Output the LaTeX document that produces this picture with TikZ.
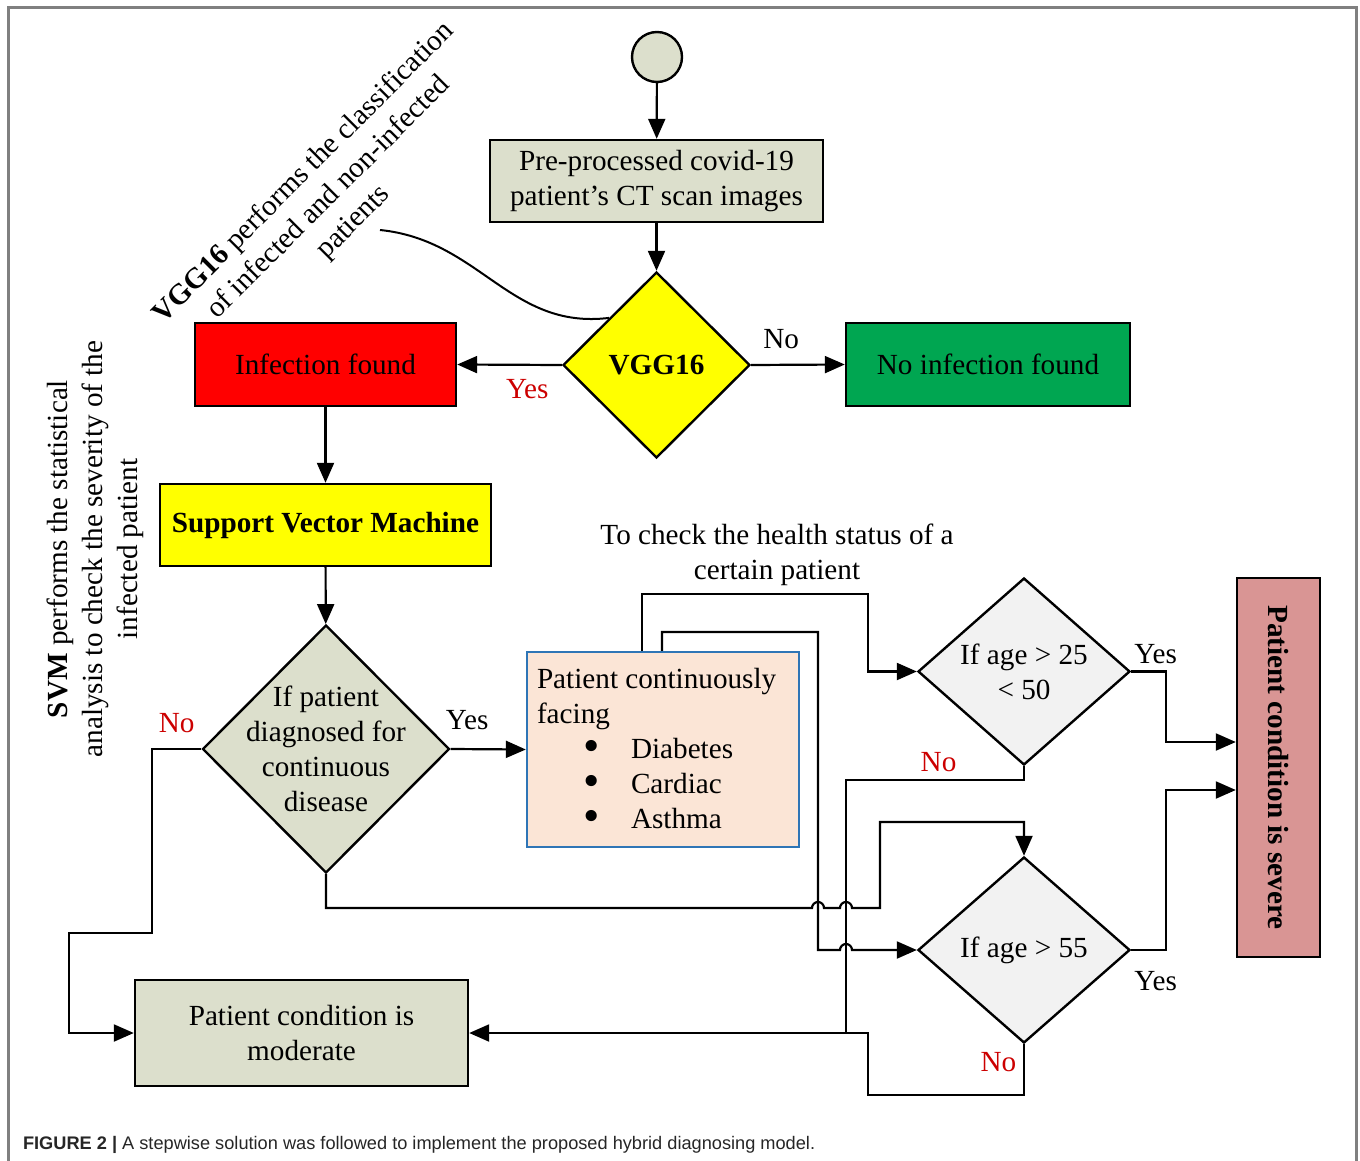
\documentclass[tikz,border=0pt]{standalone}
\usepackage{fontspec}
\usepackage{graphicx}
\setmainfont{Liberation Serif}
\newfontfamily\capfont{Liberation Sans}
\usetikzlibrary{shapes.geometric,arrows.meta}

\definecolor{flowgrey}{RGB}{220,223,204}
\definecolor{agegrey}{RGB}{242,242,242}
\definecolor{infred}{RGB}{255,0,0}
\definecolor{okgreen}{RGB}{0,166,81}
\definecolor{svmyellow}{RGB}{255,255,0}
\definecolor{facepeach}{RGB}{251,229,214}
\definecolor{faceblue}{RGB}{46,117,182}
\definecolor{severepink}{RGB}{217,149,148}
\definecolor{noRed}{RGB}{204,0,0}
\definecolor{framegrey}{RGB}{128,128,128}

\newcommand\sickitem[1]{\hspace*{23pt}\makebox[24pt][l]{\raisebox{-1.5pt}{\scalebox{1.6}{\textbullet}}}#1}

\tikzset{%
  every node/.style={
    font=\fontsize{14.6pt}{17.5pt}\selectfont
  },
  flow box/.style={
    rectangle,
    draw,
    line width=1.2pt,
    inner sep=2pt,
    align=center
  },
  flow decision/.style={
    diamond,
    draw,
    line width=1.2pt,
    inner sep=0pt
  },
  flow line/.style={line width=1.1pt},
  answer no/.style={text=noRed},
}

\begin{document}
\begin{tikzpicture}[x=0.5pt, y=-0.5pt, >={Triangle[length=10pt,width=8.5pt]}]

  \useasboundingbox (0,0) rectangle (1360,1161);
  \draw [framegrey, line width=1.5pt] (8,1161) -- (8,8) -- (1356,8) -- (1356,1161);

  % upper part
  \node [circle, draw, fill=flowgrey, line width=1.2pt, minimum size=25pt, inner sep=0pt] (start) at (657,57) {};
  \node [flow box, fill=flowgrey, minimum width=166.5pt, minimum height=41pt] (preproc) at (656.5,181)
    {Pre-processed covid-19\\patient’s CT scan images};
  \node [flow decision, fill=svmyellow, minimum width=93.5pt, minimum height=93pt,
    label={center:\textbf{VGG16}}] (vgg) at (656.5,365) {};
  \node [flow box, fill=infred, minimum width=130.5pt, minimum height=41.5pt] (infect) at (325.5,364.5) {Infection found};
  \node [flow box, fill=okgreen, minimum width=142pt, minimum height=41.5pt] (noinf) at (988,364.5) {No infection found};
  \node [flow box, fill=svmyellow, minimum width=165.5pt, minimum height=41pt] (svmbox) at (325.5,525)
    {\textbf{Support Vector Machine}};

  % severity check
  \node [flow decision, fill=flowgrey, minimum width=123.5pt, minimum height=124pt,
    label={[align=center]center:If patient\\diagnosed for\\continuous\\disease}] (contd) at (326,749) {};
  \node [flow box, draw=faceblue, fill=facepeach, align=flush left, inner xsep=2pt, text width=126pt,
    minimum width=136pt, minimum height=97.5pt] (patient) at (663,749.5)
    {Patient continuously\\facing\\\sickitem{Diabetes}\\\sickitem{Cardiac}\\\sickitem{Asthma}};
  \node [flow decision, fill=agegrey, minimum width=106pt, minimum height=93.5pt,
    label={[align=center]center:If age > 25\\< 50}] (age25) at (1024,671.5) {};
  \node [flow decision, fill=agegrey, minimum width=106pt, minimum height=93pt,
    label={center:If age > 55}] (age55) at (1024,950) {};
  \node [flow box, fill=severepink, minimum width=41.5pt, minimum height=189.5pt] (severe) at (1278.5,767.5)
    {\rotatebox{-90}{\textbf{Patient condition is severe}}};
  \node [flow box, fill=flowgrey, minimum width=166.5pt, minimum height=53pt] (moderate) at (301.5,1033)
    {Patient condition is\\moderate};

  % notes
  \node [align=center] (note) at (777,555) {To check the health status of a\\certain patient};
  \node [rotate=45, align=center] (vggnote) at (329,198)
    {\textbf{VGG16} performs the classification\\of infected and non-infected\\patients};
  \node [rotate=90, align=center] (svmnote) at (95,549)
    {\textbf{SVM} performs the statistical\\analysis to check the severity of the\\infected patient};
  \coordinate (vggtail) at (380,230);
  \draw [line width=1pt] (vggtail) .. controls (480,240) and (510,330) .. (vgg.north west);

  % arrows
  \draw [flow line, ->] (start) -- (preproc);
  \draw [flow line, ->] (preproc) -- (vgg);
  \draw [flow line, ->] (vgg.west) -- (infect.east)
    node [answer no, below, pos=0.33, yshift=-3.5pt] {Yes};
  \draw [flow line, ->] (vgg.east) -- (noinf.west)
    node [above, pos=0.32, yshift=4pt] {No};
  \draw [flow line, ->] (infect) -- (svmbox);
  \draw [flow line, ->] (svmbox) -- (contd);
  \draw [flow line, ->] (contd.east) -- (patient.west)
    node [above, pos=0.22, yshift=6pt] {Yes};
  \draw [flow line, ->] (contd.west) -| node [answer no, above, pos=0.25, yshift=4pt] {No}
    (152,933) -| (69,1033) -- (moderate.west);
  \draw [flow line, ->] (contd.south) |- (812,908) arc [start angle=180, end angle=0, radius=3pt]
    -- (840,908) arc [start angle=180, end angle=0, radius=3pt] -- (880,908) |- (1024,822) -- (age55.north);
  \draw [flow line, ->] ([xshift=-10.5pt]patient.north) |- (868,594) |- (age25.west);
  \draw [flow line, ->] ([xshift=-0.5pt]patient.north) |- (818,632) |- (840,950)
    arc [start angle=180, end angle=0, radius=3pt] -- (age55.west);
  \draw [flow line] (age25.south) |- node [answer no, above, pos=0.74] {No} (846,780) -- (846,1033);
  \draw [flow line, ->] (age55.south) |- node [answer no, left, pos=0.18] {No} (868,1095) |- (moderate.east);
  \draw [flow line, ->] (age25.east) -- ++(35,0) node [above, pos=0.7] {Yes}
    |- ([yshift=12.75pt]severe.west);
  \draw [flow line, ->] (age55.east) -- ++(35,0) node [below, pos=0.7, yshift=-7pt] {Yes}
    |- ([yshift=-11.25pt]severe.west);

  % caption
  \node [anchor=west, text=black!85,
    font=\capfont\fontsize{9.1pt}{11pt}\selectfont] (caption) at (16,1145)
    {\textbf{FIGURE 2 |} A stepwise solution was followed to implement the proposed hybrid diagnosing model.};

\end{tikzpicture}
\end{document}
